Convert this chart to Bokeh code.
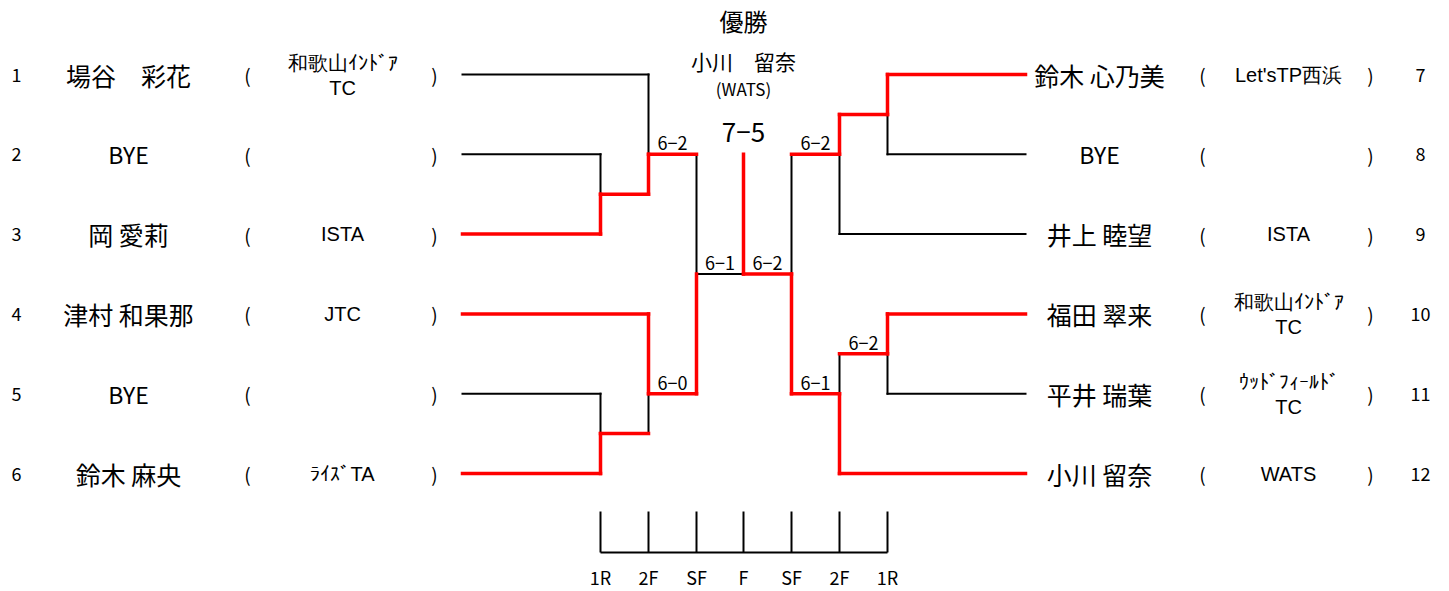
from bokeh.plotting import figure
from bokeh.models import Range1d, ColumnDataSource
from bokeh.core.properties import value
from bokeh.embed import file_html
from bokeh.resources import INLINE

# ---------------- data ----------------
seeds = [1, 2, 3, 4, 5, 6, 7, 8, 9, 10, 11, 12]
names = ["場谷\u3000彩花", "BYE", "岡 愛莉", "津村 和果那", "BYE", "鈴木 麻央",
         "鈴木 心乃美", "BYE", "井上 睦望", "福田 翠来", "平井 瑞葉", "小川 留奈"]
clubs = ["和歌山ｲﾝﾄﾞｱ\nTC", "", "ISTA", "JTC", "", "ﾗｲｽﾞTA",
         "Let'sTP西浜", "", "ISTA", "和歌山ｲﾝﾄﾞｱ\nTC", "ｳｯﾄﾞﾌｨｰﾙﾄﾞ\nTC", "WATS"]

# matches: id, side, round, top entrant, bottom entrant, winner, score
match_ids = ["M1", "M2", "M3", "M4", "M5", "M6", "M7", "M8", "M9", "M10"]
match_side = ["L", "L", "L", "L", "L", "R", "R", "R", "R", "R"]
match_round = [1, 2, 1, 2, 3, 1, 2, 1, 2, 3]
match_top = ["P2", "P1", "P5", "P4", "M2", "P7", "M6", "P10", "M8", "M7"]
match_bottom = ["P3", "M1", "P6", "M3", "M4", "P8", "P9", "P11", "P12", "M9"]
match_winner = ["P3", "M1", "P6", "P4", "M4", "P7", "M6", "P10", "P12", "M9"]
match_score = ["", "6\u22122", "", "6\u22120", "6\u22121", "", "6\u22122", "6\u22122", "6\u22121", "6\u22122"]

final_left, final_right, final_winner, final_score = "M5", "M10", "M10", "7\u22125"
champion_name = "小川\u3000留奈"
champion_club = "(WATS)"
title = "優勝"
round_labels = ["1R", "2F", "SF", "F", "SF", "2F", "1R"]

# ---------------- layout ----------------
FONT = "Noto Sans CJK JP"
LATIN = "Liberation Sans"
ROW0, ROWSTEP = 74.0, 79.8
COL = {"L": {0: 462, 1: 600, 2: 648, 3: 696}, "R": {0: 1025, 1: 887, 2: 839, 3: 791}}
CENTER = 743
RED, BLACK = "#ff0000", "#000000"


def row_y(r):
    return ROW0 + (r - 1) * ROWSTEP


def player_row(seed):
    return (seed - 1) % 6 + 1


p = figure(width=1449, height=591, output_backend="svg", toolbar_location=None,
           x_range=Range1d(0, 1449), y_range=Range1d(591, 0), min_border=0)
p.axis.visible = False
p.grid.visible = False
p.outline_line_color = None
p.background_fill_color = "white"

out_row = {}
segs = {"x0": [], "y0": [], "x1": [], "y1": [], "c": [], "w": []}


def seg(x0, y0, x1, y1, red):
    segs["x0"].append(x0); segs["y0"].append(y0)
    segs["x1"].append(x1); segs["y1"].append(y1)
    segs["c"].append(RED if red else BLACK)
    segs["w"].append(3.5 if red else 2)


def ent_row(e):
    if e.startswith("P"):
        return player_row(int(e[1:]))
    return out_row[e]


score_x, score_y, score_t = [], [], []

for i, mid in enumerate(match_ids):
    side, rnd = match_side[i], match_round[i]
    x = COL[side][rnd]
    t, b, w = match_top[i], match_bottom[i], match_winner[i]
    rt, rb = ent_row(t), ent_row(b)
    mrow = (rt + rb) / 2
    orow = mrow if (2 * mrow).is_integer() else round(mrow)
    out_row[mid] = orow
    for e, r in ((t, rt), (b, rb)):
        won = (e == w)
        if e.startswith("P"):
            seg(COL[side][0], row_y(r), x, row_y(r), won)
        seg(x, row_y(r), x, row_y(orow), won)
    nx = COL[side][rnd + 1] if rnd < 3 else CENTER
    if rnd < 3:
        seg(x, row_y(orow), nx, row_y(orow), True)
    else:
        seg(x, row_y(orow), nx, row_y(orow), mid == final_winner)
    if match_score[i]:
        score_x.append((x + nx) / 2)
        score_y.append(row_y(orow) - 11)
        score_t.append(match_score[i])

# final vertical up to champion line
frow = out_row[final_left]
seg(CENTER, row_y(frow), CENTER, row_y(2), True)

# draw black first then red
order = sorted(range(len(segs["c"])), key=lambda k: segs["c"][k] == RED)
src = ColumnDataSource({k: [v[j] for j in order] for k, v in segs.items()})
p.segment(x0="x0", y0="y0", x1="x1", y1="y1", line_color="c", line_width="w",
          line_cap="square", source=src)

# round axis
rx = [COL["L"][1], COL["L"][2], COL["L"][3], CENTER, COL["R"][3], COL["R"][2], COL["R"][1]]
p.segment(x0=rx, y0=[511] * 7, x1=rx, y1=[552] * 7, line_color=BLACK, line_width=2)
p.segment(x0=[min(rx)], y0=[552], x1=[max(rx)], y1=[552], line_color=BLACK, line_width=2)
p.text(x=rx, y=[576] * 7, text=round_labels, text_font=value(FONT), text_font_size="18px",
       text_align="center", text_baseline="middle", text_color=BLACK)

# scores
p.text(x=score_x, y=score_y, text=score_t, text_font=value(FONT), text_font_size="18px",
       text_align="center", text_baseline="middle", text_color=BLACK)
p.text(x=[CENTER], y=[132], text=[final_score], text_font=value(FONT), text_font_size="26px",
       text_align="center", text_baseline="middle", text_color=BLACK)

# header
p.text(x=[CENTER, CENTER, CENTER], y=[20, 60, 88], text=[title, champion_name, champion_club],
       text_font=value(FONT), text_font_size=["24px", "21px", "17px"],
       text_align="center", text_baseline="middle", text_color=BLACK)

# player rows
num_x, num_y, num_t = [], [], []
nm_x, nm_y, nm_t, nm_s = [], [], [], []
par_x, par_y, par_t = [], [], []
cl_x, cl_y, cl_t = [], [], []
for s, n, c in zip(seeds, names, clubs):
    y = row_y(player_row(s))
    left = s <= 6
    num_x.append(16 if left else 1420)
    nm_x.append(128 if left else 1099)
    lp, rp, cx = (247, 434, 342) if left else (1202, 1370, 1288)
    par_x += [lp, rp]
    par_y += [y, y]
    par_t += ["(", ")"]
    num_y.append(y); num_t.append(str(s))
    nm_y.append(y); nm_t.append(n)
    nm_s.append("23px" if n.isascii() else "25px")
    lines = c.split("\n") if c else []
    if len(lines) == 1:
        cl_x.append(cx); cl_y.append(y); cl_t.append(lines[0])
    elif len(lines) == 2:
        cl_x += [cx, cx]; cl_y += [y - 12, y + 13]; cl_t += lines

p.text(x=num_x, y=num_y, text=num_t, text_font=value(FONT), text_font_size="18px",
       text_align="center", text_baseline="middle", text_color=BLACK)
p.text(x=nm_x, y=nm_y, text=nm_t, text_font=value(FONT), text_font_size=nm_s,
       text_align="center", text_baseline="middle", text_color=BLACK)
p.text(x=par_x, y=par_y, text=par_t, text_font=value(FONT), text_font_size="19px",
       text_align="center", text_baseline="middle", text_color=BLACK)
p.text(x=cl_x, y=cl_y, text=cl_t, text_font=value(LATIN), text_font_size="20px",
       text_align="center", text_baseline="middle", text_color=BLACK)

open("out.html", "w").write(file_html(p, INLINE))
